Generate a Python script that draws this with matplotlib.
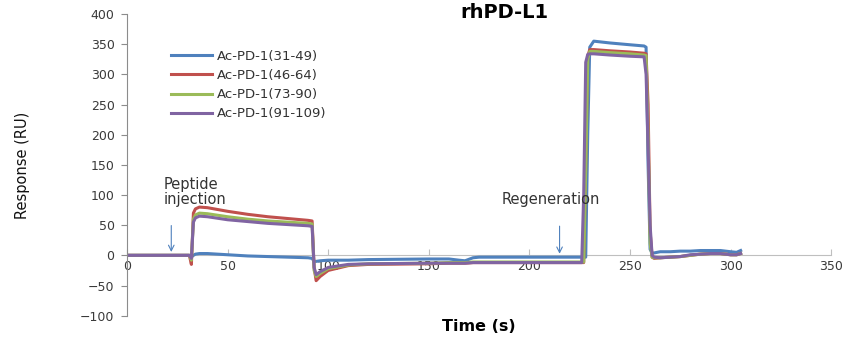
import numpy as np
import matplotlib.pyplot as plt

# 时间轴 (s) 与各肽段的响应值 (RU)
time_s = [0, 31, 32, 33, 34, 36, 40, 50, 60, 70, 80, 90, 92, 93, 94, 96, 100, 110, 120,
          150, 160, 165, 168, 172, 175, 200, 226, 227, 228, 229, 230, 232, 240, 250, 257,
          258, 259, 260, 261, 262, 265, 270, 275, 280, 285, 290, 295, 300, 303, 305]

resp_31_49 = [0, 0, -3, 0, 2, 3, 3, 1, -1, -2, -3, -4, -5, -10, -10, -9, -8, -8, -7,
              -6, -6, -8, -9, -4, -3, -3, -3, -3, -3, 200, 345, 355, 352, 349, 347,
              345, 150, 10, 4, 4, 6, 6, 7, 7, 8, 8, 8, 6, 5, 8]
resp_46_64 = [0, 0, -15, 70, 77, 80, 79, 73, 68, 64, 61, 58, 57, -20, -42, -35, -25, -17, -15,
              -14, -13, -13, -13, -12, -12, -12, -12, -12, 150, 330, 341, 341, 339, 337, 335,
              334, 250, 40, -3, -5, -4, -3, -2, 0, 2, 3, 3, 1, 1, 3]
resp_73_90 = [0, 0, -8, 60, 67, 70, 69, 64, 60, 57, 55, 53, 52, -25, -35, -30, -22, -16, -14,
              -13, -12, -12, -12, -11, -11, -11, -11, -11, 140, 325, 338, 338, 336, 334, 332,
              331, 200, 20, -3, -4, -4, -3, -2, 0, 2, 3, 3, 1, 1, 3]
resp_91_109 = [0, 0, -5, 55, 62, 65, 64, 59, 56, 53, 51, 49, 48, -20, -32, -27, -20, -15, -14,
               -13, -13, -13, -13, -12, -12, -12, -12, 100, 320, 333, 334, 334, 332, 330, 329,
               300, 180, 50, 0, -3, -4, -3, -2, 1, 2, 3, 3, 1, 1, 3]

labels = ['Ac-PD-1(31-49)', 'Ac-PD-1(46-64)', 'Ac-PD-1(73-90)', 'Ac-PD-1(91-109)']
colors = ['#4F81BD', '#C0504D', '#9BBB59', '#8064A2']

x_ticks = [0, 50, 100, 150, 200, 250, 300, 350]
y_ticks = [-100, -50, 0, 50, 100, 150, 200, 250, 300, 350, 400]

fig = plt.figure(figsize=(8.49, 3.38), dpi=100)
ax = fig.add_axes([0.1496, 0.066, 0.8294, 0.8926])

for y, lab, c in zip([resp_31_49, resp_46_64, resp_73_90, resp_91_109], labels, colors):
    ax.plot(time_s, y, color=c, lw=2.2, label=lab, solid_joinstyle='round')

ax.set_xlim(0, 350)
ax.set_ylim(-100, 400)
ax.set_xticks(x_ticks)
ax.set_yticks(y_ticks)

# 坐标轴样式：x 轴放在 0 处
gray = '#8c8c8c'
for s in ['top', 'right']:
    ax.spines[s].set_visible(False)
ax.spines['bottom'].set_position(('data', 0))
ax.spines['bottom'].set_color('#bfbfbf')
ax.spines['left'].set_color(gray)
ax.spines['bottom'].set_zorder(0)
ax.tick_params(axis='x', direction='in', length=4, color='#bfbfbf', labelsize=9,
               labelcolor='#3a3a3a', pad=3)
ax.tick_params(axis='y', direction='out', length=4, color=gray, labelsize=9,
               labelcolor='#3a3a3a', pad=5)

# 注释箭头
ax.annotate('', xy=(22, 1), xytext=(22, 54),
            arrowprops=dict(arrowstyle='->', color='#4F81BD', lw=0.8))
ax.text(18, 130, 'Peptide\ninjection', fontsize=10.5, color='#333333', va='top', ha='left',
        linespacing=1.0)
ax.annotate('', xy=(215, -2), xytext=(215, 53),
            arrowprops=dict(arrowstyle='->', color='#4F81BD', lw=0.8))
ax.text(186, 93, 'Regeneration', fontsize=10.5, color='#333333', va='center', ha='left')

leg = ax.legend(loc='upper left', bbox_to_anchor=(171 / 849, 1 - 50 / 338),
                bbox_transform=fig.transFigure, frameon=False, fontsize=9.5,
                handlelength=3.1, handletextpad=0.4, labelspacing=0.46,
                borderpad=0, borderaxespad=0)
for t in leg.get_texts():
    t.set_color('#333333')

fig.text(0.594, 0.962, 'rhPD-L1', ha='center', va='center', fontsize=14, weight='bold')
fig.text(0.564, 0.033, 'Time (s)', ha='center', va='center', fontsize=11.5, weight='bold')
fig.text(0.026, 0.512, 'Response (RU)', ha='center', va='center', rotation=90,
         fontsize=10.5, color='#111111')

plt.savefig('out.png', dpi=100)
plt.close()
